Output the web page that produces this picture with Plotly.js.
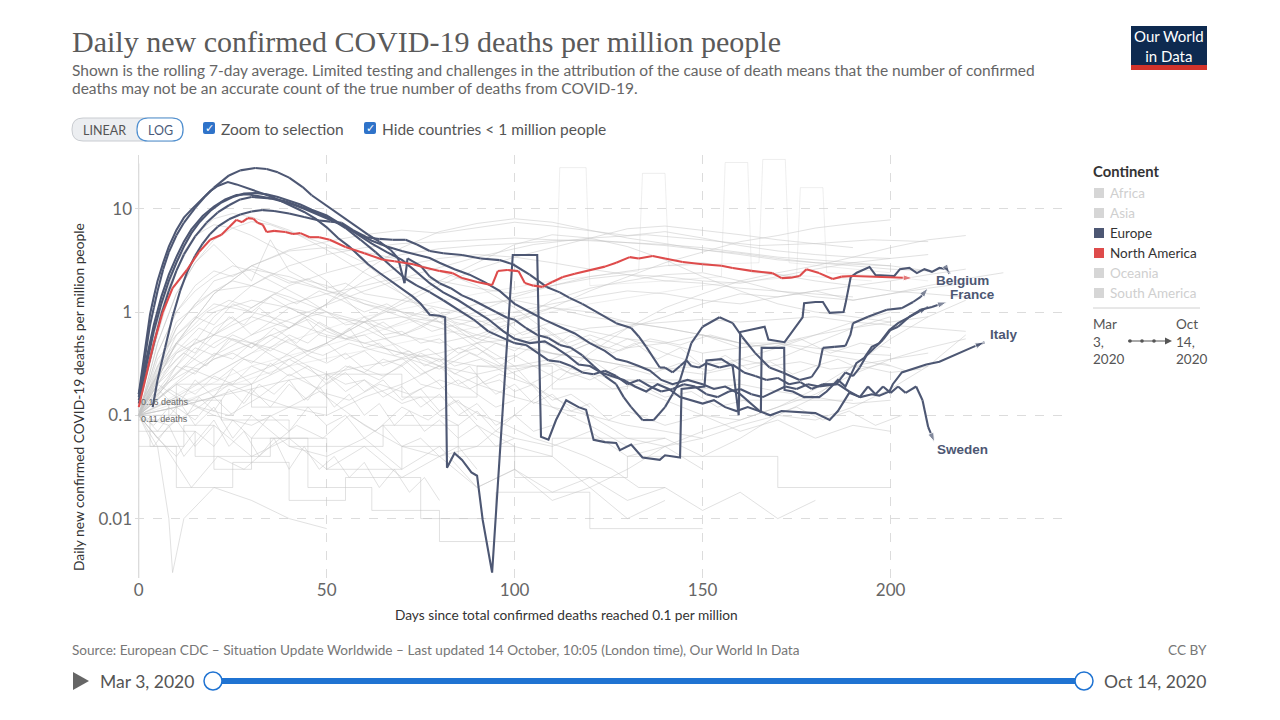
<!DOCTYPE html>
<html>
<head>
<meta charset="utf-8">
<script src="https://cdn.plot.ly/plotly-3.0.1.min.js"></script>
<style>html,body{margin:0;padding:0;background:#fff;}#chart{width:1280px;height:720px;}</style>
</head>
<body>
<div id="chart"></div>
<script>
// ---------------- DATA ----------------
const xTickVals = [0, 50, 100, 150, 200];
const yTickVals = [0.01, 0.1, 1, 10];
const yTickText = ['0.01', '0.1', '1', '10'];

const continents = ['Africa', 'Asia', 'Europe', 'North America', 'Oceania', 'South America'];

// United States (North America, red)
const usDays = [0,2,4,6.4,9,12.8,16,19,22,24,26,27.5,29,30.5,31.6,33,34,36,39,41,43,45.5,48,50.8,55,60,65,68,71,73,75.5,80,83.5,86,90,94,95.5,98,101,102.7,105,107.4,110,112.8,116,119,121.8,124,127,130.6,133,136.7,140,144.7,150,155,158,163,168.6,171,173.5,175.8,177.6,181,184.6,187,190,194,198,202,205.9];
const usVals = [0.12,0.25,0.5,1.0,1.7,2.55,3.8,5,5.6,6.6,7.8,7.4,8.1,8.0,7.3,7.0,5.95,6.1,5.95,5.7,5.8,5.3,5.3,5.0,4.26,3.7,3.2,3.1,2.98,2.9,2.73,2.5,2.38,2.13,1.95,1.82,2.49,2.55,2.49,1.91,1.8,1.75,1.95,2.18,2.35,2.5,2.67,2.75,3.0,3.4,3.3,3.48,3.3,3.05,2.9,2.8,2.67,2.5,2.38,2.13,2.15,2.23,2.6,2.38,2.09,2.2,2.23,2.2,2.18,2.15,2.13];

// European countries (dark)
const belgiumDays = [0,1,2,3,4,5,6.5,8,10,12,15,17.5,20,22,24,27,31,34,37,40,43.6,46,49,52,55,58,61,64,67,69,70.7,71.5,73,75,77.4,80,83,86,89,92,95,98,100,103,106,109,112,115,118,121,124,127,129,131,134,137,140,142,144,147,150,154.5,158,160.6,164,167.8,171.3,175.8,179,181,182,185,188,189.3,190,194,197,199,203,206,208,210];
const belgiumVals = [0.15,0.25,0.45,0.75,1.1,1.6,2.6,3.8,5.5,7.3,10.2,13,16,18.5,21,23.5,24.8,24.2,22.5,20,16.2,13.5,11.3,9.5,8.0,6.6,5.6,4.8,4.0,3.3,1.9,3.3,3.1,2.8,2.2,1.9,1.7,1.45,1.3,1.15,1.0,0.88,0.84,0.7,0.6,0.56,0.48,0.45,0.38,0.3,0.24,0.2,0.15,0.12,0.09,0.09,0.12,0.16,0.22,0.5,0.72,0.89,0.78,0.57,0.4,0.29,0.26,0.22,0.235,0.3,0.45,0.46,0.47,0.6,0.78,0.9,0.98,1.05,1.09,1.25,1.4,1.71];

const spainDays = [0,1,2,3,4,5,6.5,8,10,12,14,16.7,19,21,23.7,26,29,32,35,38,41,44,47,50,53,56,59,61,64,67,70,73,75,77.4,80,81.5,82,84,86,88.5,90,91.5,94,99.5,106,107,109,111,113.7,117,119,121,124,127,128,131,134,138.6,140,144,144.4,150.5,151,155,158,159.6,160,166.5,167.5,171.8,176.6,177,180,182,183.8,187.5,188,189.4,191,194.4,196,199,201,202.5,205,207,209,211,213,215,215.7];
const spainVals = [0.16,0.3,0.55,0.95,1.4,2.0,3.0,4.3,6.2,8.2,9.8,12.2,14.8,16.6,18.1,17.2,15.8,14.6,13.2,11.8,10.5,9.3,8.0,6.6,5.2,4.3,3.4,2.9,2.4,2.0,1.7,1.4,1.2,0.94,0.92,0.89,0.031,0.043,0.037,0.028,0.026,0.0097,0.003,3.56,3.56,0.062,0.058,0.09,0.14,0.12,0.113,0.058,0.055,0.054,0.046,0.052,0.039,0.037,0.041,0.039,0.18,0.19,0.34,0.35,0.3,0.1,0.64,0.72,0.54,0.51,0.89,1.22,1.25,1.25,0.98,1.0,1.2,2.18,2.4,2.73,2.28,2.23,2.23,2.6,2.67,2.38,2.6,2.45,2.67,2.6,2.35];

const italyDays = [0,2,4,6,8,10,12,14,17,20,23,26,29,32,35,38,41,44,47,50,54,58,62,66,70,73,77.4,81,85,89,93,97,100,104,108,111,114,117,120,123,126,129,132,135,138,141,144,147,150,153,156,159,162,165,168,171,175.8,180,183.8,186,189,192,195,197,199.7,200.6,203,206,209.5,213,216,218,222,225];
const italyVals = [0.16,0.35,0.75,1.4,2.3,3.4,4.8,6.3,8.5,10.5,12.3,13.6,13.8,13.2,12.6,11.8,11.0,10.0,9.0,8.2,7.0,5.7,4.6,3.8,3.2,2.6,1.9,1.55,1.3,1.05,0.85,0.65,0.55,0.5,0.52,0.45,0.38,0.31,0.3,0.26,0.24,0.22,0.19,0.17,0.2,0.18,0.15,0.14,0.13,0.14,0.12,0.11,0.12,0.11,0.1,0.11,0.108,0.105,0.09,0.11,0.165,0.15,0.16,0.155,0.17,0.2,0.26,0.28,0.31,0.33,0.37,0.4,0.46,0.51];

const franceDays = [0,2,4,6,8,10,12,15,18,21,24,27,30,33,36,39,42,45,48,51,55,59,63,67,71,74,77.4,81,85,89,93,97,100,103,106,109,112,115,118,121,124,127,130,133,136,139,142,145,148,151,154,157,160,163,166,169,172,175,178,181,185.6,188,190,191.8,193.6,196,198,200,202,205,208,211,215];
const franceVals = [0.13,0.25,0.5,0.95,1.6,2.5,3.6,5.4,7.3,9.2,10.8,12.3,13.0,12.8,12.5,11.8,10.8,9.8,9.0,8.0,6.5,5.0,3.8,2.8,2.1,1.8,1.56,1.3,1.05,0.85,0.65,0.56,0.5,0.48,0.4,0.34,0.33,0.3,0.26,0.25,0.27,0.24,0.2,0.22,0.19,0.17,0.18,0.2,0.19,0.16,0.15,0.17,0.18,0.16,0.15,0.17,0.19,0.18,0.2,0.19,0.2,0.26,0.24,0.29,0.38,0.46,0.54,0.67,0.72,0.9,1.05,1.12,1.25];

const ukDays = [0,2,4,6,8,10,12,14,16,19,22,25,28,31,34,37,40,43,46,50,54,58,62,66,70,74,77.4,80,84,88,92,96,100,104,108,112,116,120,124,127,130,133,136,139,142,146,150,153,156,160,163,165.5,165.7,171.7,171.8,174,177,181,183,186,188,190.9,193,195,197,199.7,202,205,207,210];
const ukVals = [0.14,0.3,0.65,1.2,2.0,3.0,4.3,5.8,7.3,9.5,11.5,13.0,14.0,14.2,13.8,13.0,12.0,11.0,9.8,8.6,7.0,5.8,4.9,4.3,3.9,3.6,3.33,3.0,2.6,2.3,1.95,1.6,1.2,1.0,0.84,0.72,0.62,0.5,0.42,0.35,0.33,0.3,0.27,0.22,0.2,0.22,0.2,0.18,0.19,0.16,0.13,0.107,0.45,0.45,0.176,0.17,0.15,0.15,0.17,0.22,0.19,0.32,0.36,0.46,0.5,0.67,0.78,0.9,0.98,1.12];

const swedenDays = [3.7,5,7,9,11,13,15,17,19,21,24,27,30,33,36,40,44,48,51,54,57,60.6,64,67.5,71,74,77.4,81,86,91,96,99.5,104,108.5,112,114.6,118,121.8,125,127,131,133,135,137,138.6,140,142,144,145.7,147,149,151,153,154.5,158,161,164,167,170,173,176,179,182,186,189,191.8,194,196,198,200,202,204,206.8,208.5,210,211.7];
const swedenVals = [0.12,0.22,0.45,0.9,1.6,2.5,3.5,4.6,5.7,6.7,7.9,8.8,9.4,9.7,9.5,9.0,8.3,7.7,7.5,7.3,6.2,5.3,5.1,5.0,5.0,4.5,3.9,3.7,3.56,3.3,3.18,2.9,2.3,1.75,1.55,1.37,1.2,1.0,0.85,0.78,0.7,0.58,0.46,0.35,0.29,0.29,0.26,0.3,0.34,0.3,0.29,0.32,0.3,0.29,0.31,0.26,0.24,0.22,0.23,0.2,0.21,0.18,0.2,0.2,0.17,0.15,0.19,0.16,0.19,0.165,0.19,0.165,0.19,0.14,0.077,0.055];

// Background countries (grey), hand-read approximations
const bgDays = [
 [0,10,20,30,40,50,60,70,80,90,100,110,120,130,140,150,160,170,180,190,200,210],
 [0,10,20,30,40,50,60,70,80,90,100,110,120,130,140,150,160,170,180,190,200],
 [0,10,20,30,40,50,60,70,80,90,100,110,120,130,140,150,160,170,180,190,200,210],
 [0,10,20,30,40,50,60,70,80,90,100,110,120,130,140,150,160,170,180,190,200,210,220],
 [0,5,10,15,20,25,30,40,50,60,70,80,90,100,110,120,130,140,150,160,170,180,190,200,210,220],
 [0,5,10,15,20,25,30,40,50,60,70,80,90,100,110,120,130,140,150,160,170,180,190,200,210,220],
 [0,5,10,15,20,25,30,35,40,50,60,70,80,90,100,110,120,130,140,150,160,170,180,190,200,210],
 [0,10,20,30,40,50,60,70,80,90,100,110,120,130,140,150,160,170,180,190,200,210,220,230],
 [0,10,20,30,40,50,60,70,80,90,100,110,120,130,140,150,160,170,180,190,200],
 [0,10,20,30,40,50,60,70,80,90,100,110,120,130,140,150,160,170,180,190],
 [0,10,20,30,40,50,60,70,80,90,100,110,120,130,140,150,160,170,180,190,200],
 [0,5,10,15,20,25,30,35,40,45,50,55,60,70,80,90,100,110,120,130,140,150,160],
 [0,30,60,90,111,112,119,120,140,155,156,162,163,180,195],
 [0,30,60,90,110,133,134,140,141,165,166,172,173,190,200],
 [0,40,80,120,150,175,176,182,183,200,210],
 [0,4,8,12,16,20,25,30,35,40,45,50,55,60,65,70,75,80,85,90,95,100,110,120,130,140,150],
 [0,5,10,15,20,25,30,35,40,45,50,55,60,65,70,80,90,100,110,120,130,140,150,160,170,180,190,200],
 [0,3,3,12,12,20,20,30,30,45,45,62,62,80,80,100],
 [0,5,10,15,20,30,40,50,60,70,80,90,100,110,120,130,140,150,160,170,180],
 [0,6,12,18,24,30,36,42,48,54,60,66,72,78,84,90,96,102,108,114,120,130,140,150,160,170,180,190,200,210],
 [0,5,10,15,20,25,30,35,40,45,50,60,70,80,90,100,110,120,130,140,150,160,170,180,190,200,210,220],
 [0,8,16,24,32,40,48,56,64,72,80,88,96,104,112,120,128,136,144,152,160,168,176,184,192,200],
 [0,5,10,15,20,25,30,40,50,60,70,80,90,100,110,120,130,140],
 [0,5,10,15,20,25,30,35,40,50,60,70,80,90,100,110,120,130,140,150,160,170,180,190,200],
 [0,10,20,30,40,50,60,70,80,90,100,110,120,130,140,150,160,170,180,190,200,210,220],
 [0,10,10,25,25,40,40,55,55,75,75,95,95,120,120,150],
 [0,4,8,12,16,20,24,28,32,36,40,44,48,52,56,60,64,68,72,76,80,85,90,95,100],
 [0,10,20,30,40,50,60,70,80,90,100,110,120,130,140,150,160,170,180,190,200],
 [0,7,14,21,28,35,42,49,56,63,70,77,84,91,98,105,112,119,126,133,140],
 [0,10,20,30,40,50,60,70,80,90,100,110,120,130,140,150,160,170,180,190,200],
 [0,5,10,15,20,25,30,35,40,45,50,55,60,65,70,75,80,85,90,95,100],
 [0,5,8,9,12,20,30,40,50],
 [0,10,10,30,30,50,50,70,70,90,90,110,110,130,130,160,160,190],
 [0,10,20,30,40,50,60,70,80,90,100,110,120,130,140,150,160,170,180,190,200,210,220],
 [0,10,20,30,40,50,60,70,80,90,100,110,120,130,140,150,160,170,180,190,200,210],
 [0,4,8,12,16,20,24,28,32,36,40,44,48,52,56,60,64,68,72,76,80,84,88,92,96,100,105,110,115,120],
 [0,5,10,15,20,25,30,35,40,45,50,55,60,65,70,75,80,85,90,95,100,110,120,130,140,150,160,170,180,190,200],
 [0,5,10,15,20,25,30,35,40,45,50,55,60,65,70,75,80,85,90,95,100,105,110],
 [0,6,12,18,24,30,36,42,48,54,60,66,72,78,84,90,96,102,108,114,120,126,132,138,144,150,156,162,168,174,180,186,192,198,204,210],
 [0,5,10,15,20,25,30,35,40,45,50,55,60,70,80,90,100,110,120,130,140,150,160,170,180,190,200,210,220],
 [0,5,10,15,20,25,30,35,40,45,50,55,60,65,70,75,80,85,90],
 [0,7,14,21,28,35,42,49,56,63,70,77,84,91,98,105,112,119,126,133,140,147,154,161,168,175,182,189,196,203],
 [0,5,10,15,20,25,30,35,40,45,50,55,60,65,70,75,80,85,90,95,100,105,110,115,120,125,130,135,140,145,150],
 [0,10,20,30,40,50,60,70,80,90,100,110,120,130,140,150,160,170,180,190,200],
 [0,4,8,12,16,20,24,28,32,36,40,44,48,52,56,60,64,68,72,76,80],
 [0,15,15,35,35,50,50,70,70,100,100,130,130,170,170,200],
 [0,8,8,22,22,40,40,65,65,85,85,110,110,140],
 [0,10,20,30,40,50,60,70,80,90,100,110,120,130,140,150,160,170,180,190,200,210,220],
 [0,5,10,15,20,25,30,35,40,45,50,60,70,80,90,100,110,120,130,140,150],
 [0,5,10,15,20,25,30,35,40,45,50,55,60,65,70,75,80,85,90,95,100,105,110,115,120,125,130,140,150,160,170,180,190,200],
 [0,10,20,30,40,50,60,70,80,90,100,110,120,130,140,150,160,170,180,190],
 [0,5,10,15,20,25,30,35,40,45,50,55,60,65,70,75,80,85,90],
 [0,15,30,45,60,75,90,105,120,135,150,165,180,195,210],
 [0,8,16,24,32,40,48,56,64,72,80,88,96,104,112,120,128,136,144,152,160,168,176,184,192,200,208],
 [0,5,10,15,20,25,30,35,40,45,50,55,60,65,70,75,80,85,90,95,100,105,110,115,120]
];
const bgVals = [
 [0.1,0.3,0.9,1.8,2.8,3.6,4.2,4.6,4.8,5.0,5.2,5.0,4.9,4.7,4.5,4.2,3.8,3.4,3.2,3.0,2.8,2.5],
 [0.12,0.5,1.5,2.8,4,4.8,5.6,6.2,5.8,6.6,7.4,6.8,6.1,5.5,6.0,5.2,4.4,3.9,3.6,3.4,3.3],
 [0.1,0.25,0.6,1.1,1.8,2.4,3.0,3.6,4.1,4.4,4.6,4.9,5.0,4.7,4.4,4.0,3.7,3.3,3.0,2.8,2.6,2.5],
 [0.1,0.5,1.5,2.8,3.9,4.2,3.8,3.2,2.5,1.8,1.1,0.6,0.35,0.2,0.14,0.1,0.09,0.12,0.16,0.25,0.35,0.45,0.55],
 [0.12,0.6,2.5,5.5,8,9,8.3,6.2,4,2.4,1.5,0.8,0.45,0.25,0.15,0.1,0.06,0.05,0.07,0.09,0.12,0.18,0.3,0.55,0.9,1.3],
 [0.14,0.8,3,5.5,7,6.5,5.5,3.5,2,0.9,0.4,0.2,0.08,0.05,0.04,0.02,0.03,0.05,0.06,0.08,0.1,0.09,0.12,0.18,0.3,0.6],
 [0.1,0.5,1.5,3,5,6.5,7.5,7,6,4.5,3,1.5,0.9,0.5,0.3,0.12,0.08,0.05,0.06,0.04,0.06,0.1,0.15,0.3,0.35,0.4],
 [0.1,0.8,1.6,1.8,1.4,1.0,0.8,0.6,0.5,0.6,0.8,1.3,1.7,2.0,2.3,2.4,2.0,1.6,1.4,1.3,1.5,1.8,2.1,2.4],
 [0.1,0.2,0.35,0.5,0.7,1.2,2.5,4.2,6,7.2,8,7.4,6.2,5.2,4.6,4.0,3.6,3.2,3.0,2.9,2.8],
 [0.1,0.12,0.18,0.25,0.35,0.5,0.8,1.2,1.8,2.6,3.4,4.2,5.2,6.4,6.8,6.2,5.6,5.0,4.6,4.2],
 [0.1,0.15,0.1,0.08,0.12,0.1,0.15,0.2,0.3,0.5,0.8,1.1,1.6,2.2,3.0,3.8,4.8,5.5,6.5,7.2,7.8],
 [0.1,0.5,1.5,3,4.5,3,2,5,2.5,2,1.8,1.5,1.2,1,0.9,0.8,0.9,1.1,1.0,0.8,0.7,0.6,0.5],
 [0.1,0.3,0.6,1.2,1.5,25,25,1.8,2,2.2,28,28,2.4,2.2,2],
 [0.1,0.4,0.9,1.5,2,2.5,22,22,2.8,3,30,30,3,2.6,2.4],
 [0.1,0.3,0.6,1.2,1.8,2.2,16,16,2.4,2.2,2.0],
 [0.1,0.15,0.22,0.3,0.28,0.35,0.4,0.32,0.45,0.38,0.3,0.25,0.2,0.22,0.17,0.13,0.15,0.1,0.08,0.11,0.07,0.06,0.05,0.07,0.04,0.05,0.03],
 [0.11,0.2,0.35,0.5,0.6,0.75,0.9,0.8,0.7,0.85,0.65,0.55,0.6,0.45,0.4,0.35,0.3,0.28,0.32,0.25,0.22,0.2,0.18,0.2,0.17,0.15,0.13,0.14],
 [0.1,0.1,0.05,0.05,0.08,0.08,0.03,0.03,0.06,0.06,0.02,0.02,0.012,0.012,0.006,0.006],
 [0.1,0.06,0.09,0.05,0.08,0.04,0.06,0.03,0.05,0.025,0.04,0.02,0.03,0.018,0.025,0.015,0.02,0.012,0.018,0.01,0.015],
 [0.1,0.3,0.6,1.0,1.3,1.1,1.5,1.2,1.6,1.3,1.0,1.2,0.9,1.1,0.8,0.7,0.9,0.6,0.7,0.5,0.6,0.45,0.5,0.4,0.45,0.5,0.6,0.7,0.8,0.9],
 [0.12,0.3,0.5,0.4,0.7,0.9,0.6,0.8,1.1,0.9,0.7,0.5,0.4,0.3,0.25,0.3,0.35,0.5,0.7,0.9,1.2,1.5,1.4,1.6,1.3,1.5,1.7,1.9],
 [0.1,0.18,0.12,0.2,0.15,0.25,0.18,0.3,0.22,0.35,0.28,0.4,0.3,0.45,0.38,0.5,0.42,0.55,0.48,0.6,0.5,0.45,0.55,0.4,0.5,0.45],
 [0.1,0.2,0.15,0.08,0.12,0.06,0.1,0.05,0.04,0.06,0.03,0.05,0.02,0.03,0.015,0.02,0.01,0.015],
 [0.1,0.4,1.0,1.8,2.5,2.2,2.8,2.4,2.0,1.6,1.3,1.0,0.8,0.6,0.5,0.4,0.35,0.3,0.28,0.25,0.3,0.35,0.5,0.7,0.9],
 [0.1,0.25,0.5,0.8,1.2,1.5,1.8,2.2,2.0,1.7,1.5,1.8,2.2,2.5,2.8,3.0,2.6,2.3,2.0,1.8,1.6,1.5,1.4],
 [0.05,0.05,0.02,0.02,0.035,0.035,0.015,0.015,0.025,0.025,0.01,0.01,0.018,0.018,0.008,0.008],
 [0.1,0.08,0.12,0.09,0.15,0.11,0.18,0.13,0.2,0.16,0.22,0.14,0.19,0.12,0.16,0.1,0.13,0.08,0.11,0.07,0.09,0.06,0.08,0.05,0.06],
 [0.1,0.12,0.15,0.2,0.3,0.5,0.8,1.3,2.0,3.0,4.5,5.6,5.2,4.3,3.2,2.2,1.6,1.2,1.0,0.9,0.8],
 [0.1,0.05,0.02,0.04,0.03,0.05,0.08,0.06,0.1,0.07,0.12,0.09,0.14,0.1,0.08,0.06,0.05,0.04,0.03,0.02,0.02],
 [0.1,0.6,1.2,1.0,0.8,0.6,0.5,0.6,0.9,1.2,1.3,1.1,0.9,0.8,0.7,0.6,0.5,0.5,0.45,0.4,0.38],
 [0.12,0.25,0.4,0.55,0.45,0.6,0.5,0.42,0.55,0.38,0.32,0.4,0.28,0.24,0.3,0.2,0.18,0.22,0.16,0.12,0.14],
 [0.1,0.05,0.01,0.003,0.01,0.02,0.015,0.01,0.008],
 [0.1,0.1,0.2,0.2,0.12,0.12,0.25,0.25,0.15,0.15,0.3,0.3,0.18,0.18,0.22,0.22,0.14,0.14],
 [0.1,0.4,0.6,0.5,0.3,0.15,0.08,0.05,0.04,0.05,0.1,0.2,0.4,0.7,1.1,1.5,2.0,2.4,2.8,3.4,4.2,5.0,5.5],
 [0.1,0.5,1.0,1.3,1.1,0.9,0.8,0.9,0.8,1.0,1.4,1.8,2.1,2.3,2.2,2.0,1.9,2.2,2.6,3.0,3.3,3.6],
 [0.1,0.2,0.35,0.5,0.7,0.6,0.9,0.75,1.1,0.85,0.7,0.9,0.6,0.55,0.7,0.45,0.5,0.38,0.42,0.3,0.35,0.25,0.3,0.2,0.22,0.17,0.2,0.14,0.16,0.12],
 [0.1,0.15,0.3,0.25,0.4,0.35,0.5,0.45,0.6,0.5,0.7,0.55,0.65,0.8,0.6,0.7,0.9,0.75,0.85,0.7,0.6,0.8,0.65,0.55,0.5,0.6,0.45,0.5,0.4,0.35,0.3],
 [0.11,0.07,0.12,0.09,0.15,0.1,0.18,0.12,0.2,0.14,0.25,0.17,0.22,0.15,0.19,0.12,0.16,0.1,0.13,0.08,0.1,0.07,0.08],
 [0.1,0.25,0.4,0.3,0.55,0.45,0.7,0.5,0.8,0.6,0.9,0.7,0.85,0.65,0.75,0.55,0.7,0.5,0.6,0.45,0.55,0.4,0.5,0.35,0.45,0.3,0.38,0.28,0.33,0.25,0.3,0.35,0.28,0.32,0.27,0.3],
 [0.1,0.3,0.7,1.2,1.6,2.0,1.8,2.3,1.9,2.1,1.7,1.9,1.5,1.3,1.1,0.9,1.0,1.2,1.4,1.6,1.5,1.3,1.2,1.4,1.6,1.8,2.0,2.3,2.6],
 [0.1,0.06,0.04,0.07,0.05,0.09,0.06,0.1,0.07,0.12,0.08,0.1,0.06,0.08,0.05,0.06,0.04,0.05,0.03],
 [0.12,0.2,0.28,0.22,0.35,0.3,0.45,0.38,0.5,0.42,0.36,0.44,0.3,0.35,0.25,0.3,0.22,0.26,0.18,0.2,0.15,0.17,0.12,0.14,0.1,0.12,0.09,0.11,0.08,0.1],
 [0.1,0.14,0.2,0.16,0.24,0.2,0.3,0.25,0.35,0.28,0.22,0.3,0.26,0.35,0.3,0.4,0.33,0.45,0.38,0.5,0.42,0.55,0.46,0.6,0.5,0.45,0.55,0.48,0.4,0.35,0.3],
 [0.1,0.7,2.0,2.6,2.2,1.6,1.2,0.9,0.7,0.55,0.45,0.4,0.35,0.3,0.28,0.3,0.35,0.45,0.6,0.8,1.0],
 [0.1,0.05,0.08,0.04,0.06,0.09,0.05,0.07,0.04,0.06,0.03,0.05,0.03,0.04,0.025,0.035,0.02,0.03,0.018,0.025,0.015],
 [0.07,0.07,0.04,0.04,0.06,0.06,0.03,0.03,0.05,0.05,0.025,0.025,0.04,0.04,0.02,0.02],
 [0.09,0.09,0.14,0.14,0.09,0.09,0.05,0.05,0.08,0.08,0.04,0.04,0.06,0.06],
 [0.1,0.12,0.15,0.18,0.22,0.25,0.3,0.35,0.4,0.5,0.55,0.6,0.7,0.75,0.8,0.85,0.8,0.85,0.9,0.8,0.75,0.7,0.65],
 [0.1,0.4,1.0,1.6,2.2,2.8,2.5,2.0,1.6,1.3,1.0,0.7,0.45,0.3,0.2,0.15,0.12,0.1,0.08,0.07,0.06],
 [0.1,0.2,0.3,0.45,0.38,0.55,0.45,0.6,0.5,0.42,0.5,0.35,0.42,0.3,0.36,0.25,0.3,0.2,0.24,0.16,0.2,0.13,0.16,0.11,0.13,0.09,0.11,0.08,0.1,0.07,0.09,0.06,0.08,0.07],
 [0.1,0.15,0.25,0.4,0.7,1.2,2.0,2.8,3.3,3.6,3.4,3.0,2.6,2.3,2.0,1.9,1.7,1.6,1.5,1.4],
 [0.1,0.18,0.12,0.22,0.15,0.28,0.2,0.32,0.24,0.3,0.2,0.26,0.17,0.22,0.14,0.18,0.11,0.14,0.09],
 [0.1,0.3,0.6,1.0,1.6,2.4,3.4,4.5,5.2,5.6,5.0,4.4,4.6,5.0,4.8],
 [0.1,0.08,0.12,0.1,0.15,0.12,0.17,0.14,0.2,0.16,0.22,0.18,0.25,0.2,0.28,0.22,0.3,0.25,0.32,0.27,0.35,0.3,0.33,0.28,0.3,0.26,0.28],
 [0.1,0.35,0.6,0.9,0.75,1.2,1.0,1.4,1.1,0.9,1.0,0.75,0.8,0.6,0.65,0.5,0.55,0.4,0.45,0.35,0.38,0.3,0.32,0.25,0.28]
];

// ---------------- STYLE / LAYOUT ----------------
const DARK = '#4d5773';
const RED = '#de4b4b';
const GREY = 'rgba(195,195,195,0.5)';
const GREY_FAINT = 'rgba(205,205,205,0.35)';
const SANS = 'Lato, "Open Sans", sans-serif';

const L = 135, R = 1071, T = 155, B = 578;
const px = x => (x - L) / (R - L);
const py = y => (B - y) / (B - T);

const traces = [];
bgDays.forEach((d, i) => {
  const faint = Math.max.apply(null, bgVals[i]) > 12; // reporting-glitch spikes drawn fainter
  traces.push({x: d, y: bgVals[i], type: 'scatter', mode: 'lines',
    line: {color: faint ? GREY_FAINT : GREY, width: 1}, hoverinfo: 'skip', showlegend: false});
});

function mainTrace(name, days, vals, color) {
  const n = days.length;
  return {x: days, y: vals, name, type: 'scatter', mode: 'lines+markers',
    line: {color: color, width: 2.1},
    marker: {color: color, angleref: 'previous',
      size: days.map((d, i) => i === n - 1 ? 10 : (i === 0 ? 5 : 0)),
      symbol: days.map((d, i) => i === n - 1 ? 'arrow' : 'circle')},
    showlegend: false};
}
traces.push(mainTrace('Sweden', swedenDays, swedenVals, DARK));
traces.push(mainTrace('United Kingdom', ukDays, ukVals, DARK));
traces.push(mainTrace('France', franceDays, franceVals, DARK));
traces.push(mainTrace('Italy', italyDays, italyVals, DARK));
traces.push(mainTrace('Spain', spainDays, spainVals, DARK));
traces.push(mainTrace('Belgium', belgiumDays, belgiumVals, DARK));
traces.push(mainTrace('United States', usDays, usVals, RED));

function txt(x, y, text, size, color, opts) {
  opts = opts || {};
  const xa = opts.xa || 'left';
  const xx = xa === 'left' ? x - 2 : (xa === 'right' ? x + 2 : x);
  return {xref: 'paper', yref: 'paper', x: px(xx), y: py(y), text: text, showarrow: false,
    xanchor: xa, yanchor: opts.ya || 'middle', align: opts.align || 'left',
    textangle: opts.angle || 0,
    font: {family: opts.family || SANS, size: size, color: color, weight: opts.weight || 'normal'}};
}
function rect(x0, y0, x1, y1, fill, lineColor, lw) {
  return {type: 'rect', xref: 'paper', yref: 'paper', x0: px(x0), x1: px(x1), y0: py(y1), y1: py(y0),
    fillcolor: fill, line: {color: lineColor || fill, width: lw === undefined ? 0 : lw}, layer: 'above'};
}
function rrPath(x0, y0, x1, y1, r, fill, lineColor, lw) {
  const P = (x, y) => px(x) + ',' + py(y);
  const path = `M ${P(x0 + r, y0)} L ${P(x1 - r, y0)} Q ${P(x1, y0)} ${P(x1, y0 + r)} L ${P(x1, y1 - r)} Q ${P(x1, y1)} ${P(x1 - r, y1)} L ${P(x0 + r, y1)} Q ${P(x0, y1)} ${P(x0, y1 - r)} L ${P(x0, y0 + r)} Q ${P(x0, y0)} ${P(x0 + r, y0)} Z`;
  return {type: 'path', xref: 'paper', yref: 'paper', path: path, fillcolor: fill,
    line: {color: lineColor || fill, width: lw || 0}, layer: 'above'};
}
function circ(cx, cy, r, fill, lineColor, lw) {
  return {type: 'circle', xref: 'paper', yref: 'paper', x0: px(cx - r), x1: px(cx + r), y0: py(cy + r), y1: py(cy - r),
    fillcolor: fill, line: {color: lineColor || fill, width: lw || 0}, layer: 'above'};
}
function hline(x0, x1, y, color, w) {
  return {type: 'line', xref: 'paper', yref: 'paper', x0: px(x0), x1: px(x1), y0: py(y), y1: py(y),
    line: {color: color, width: w}, layer: 'above'};
}
function tri(pts, fill) {
  const path = 'M ' + pts.map(p => px(p[0]) + ',' + py(p[1])).join(' L ') + ' Z';
  return {type: 'path', xref: 'paper', yref: 'paper', path: path, fillcolor: fill, line: {color: fill, width: 0}, layer: 'above'};
}

const shapes = [
  {type: 'line', xref: 'x', yref: 'paper', x0: 0, x1: 0, y0: 0, y1: 0.98, line: {color: '#cfcfcf', width: 1}, layer: 'below'},
  rrPath(72, 118, 183, 141, 11, '#eceef1', '#c9ccd1', 1),
  rrPath(137, 118, 183, 141, 11, '#ffffff', '#4f8fd0', 1.2),
  rrPath(203, 122, 215, 134, 2, '#2f73c9'),
  rrPath(364, 122, 376, 134, 2, '#2f73c9'),
  rect(1131, 26, 1207, 65, '#0e2a50'),
  rect(1131, 65, 1207, 70, '#d2332b'),
  rect(1094, 188, 1104, 198, '#d6d6d6'),
  rect(1094, 208, 1104, 218, '#d6d6d6'),
  rect(1094, 228, 1104, 238, DARK),
  rect(1094, 248, 1104, 258, RED),
  rect(1094, 268, 1104, 278, '#d6d6d6'),
  rect(1094, 288, 1104, 298, '#d6d6d6'),
  hline(1093, 1200, 308, '#d0d0d0', 1),
  hline(1128, 1168, 341, '#555', 1.2),
  circ(1130, 341, 1.8, '#555'), circ(1142, 341, 1.8, '#555'), circ(1154, 341, 1.8, '#555'),
  tri([[1165, 337.5], [1172, 341], [1165, 344.5]], '#555'),
  tri([[73, 672], [73, 690], [89, 681]], '#666'),
  hline(213, 1084, 681, '#1f73d2', 6),
  circ(213, 681, 9, '#ffffff', '#1f73d2', 1.5),
  circ(1084, 681, 9, '#ffffff', '#1f73d2', 1.5)
];

const LBL = '"Liberation Sans", Arial, sans-serif';
const annotations = [
  txt(72, 41, 'Daily new confirmed COVID-19 deaths per million people', 30, '#5a5a5a', {family: '"Liberation Serif", "DejaVu Serif", serif'}),
  txt(72, 70, 'Shown is the rolling 7-day average. Limited testing and challenges in the attribution of the cause of death means that the number of confirmed', 15.5, '#666'),
  txt(72, 88, 'deaths may not be an accurate count of the true number of deaths from COVID-19.', 15.5, '#666'),
  txt(104.5, 130, 'LINEAR', 12.5, '#555', {xa: 'center'}),
  txt(160, 130, 'LOG', 12.5, '#4a5a7a', {xa: 'center'}),
  txt(209, 128.5, '✓', 11, '#ffffff', {xa: 'center', family: '"DejaVu Sans", sans-serif', weight: 'bold'}),
  txt(370, 128.5, '✓', 11, '#ffffff', {xa: 'center', family: '"DejaVu Sans", sans-serif', weight: 'bold'}),
  txt(221, 129, 'Zoom to selection', 15.5, '#555'),
  txt(382, 129, 'Hide countries < 1 million people', 15.5, '#555'),
  txt(1169, 46, 'Our World<br>in Data', 15, '#ffffff', {xa: 'center', align: 'center'}),
  txt(1093, 171, 'Continent', 14.8, '#333', {weight: 'bold'}),
  txt(1110, 193, continents[0], 13.5, '#cfcfcf'),
  txt(1110, 213, continents[1], 13.5, '#cfcfcf'),
  txt(1110, 233, continents[2], 13.5, '#333'),
  txt(1110, 253, continents[3], 13.5, '#333'),
  txt(1110, 273, continents[4], 13.5, '#cfcfcf'),
  txt(1110, 293, continents[5], 13.5, '#cfcfcf'),
  txt(1093, 341, 'Mar<br>3,<br>2020', 13.5, '#555'),
  txt(1176, 341, 'Oct<br>14,<br>2020', 13.5, '#555'),
  txt(566, 614, 'Days since total confirmed deaths reached 0.1 per million', 13.7, '#333', {xa: 'center'}),
  txt(78, 397, 'Daily new confirmed COVID-19 deaths per million people', 13.8, '#333', {xa: 'center', angle: -90}),
  txt(936, 280, 'Belgium', 13.5, DARK, {family: LBL, weight: 'bold'}),
  txt(950, 294, 'France', 13.5, DARK, {family: LBL, weight: 'bold'}),
  txt(990, 334, 'Italy', 13.5, DARK, {family: LBL, weight: 'bold'}),
  txt(937, 449, 'Sweden', 13.5, DARK, {family: LBL, weight: 'bold'}),
  txt(141, 402, '0.16 deaths', 9, '#666', {family: LBL}),
  txt(141, 419, '0.11 deaths', 9, '#666', {family: LBL}),
  txt(72, 650, 'Source: European CDC – Situation Update Worldwide – Last updated 14 October, 10:05 (London time), Our World In Data', 13.6, '#777'),
  txt(1207, 650, 'CC BY', 13.6, '#777', {xa: 'right'}),
  txt(100, 681, 'Mar 3, 2020', 17.5, '#555'),
  txt(1104, 681, 'Oct 14, 2020', 17.5, '#555')
];

const layout = {
  width: 1280, height: 720,
  margin: {l: L, r: 1280 - R, t: T, b: 720 - B, pad: 0},
  paper_bgcolor: '#ffffff', plot_bgcolor: '#ffffff',
  showlegend: false,
  xaxis: {range: [-1, 248], tickvals: xTickVals, ticktext: xTickVals.map(String),
    showgrid: true, gridcolor: '#dcdcdc', griddash: 'dash', gridwidth: 1,
    zeroline: false, showline: false, ticks: '',
    tickfont: {family: SANS, size: 17, color: '#666'}},
  yaxis: {type: 'log', range: [-2.575, 1.52], tickvals: yTickVals, ticktext: yTickText,
    showgrid: true, gridcolor: '#dcdcdc', griddash: 'dash', gridwidth: 1,
    zeroline: false, showline: false, ticks: '', ticklabelstandoff: 2,
    tickfont: {family: SANS, size: 17, color: '#666'}},
  shapes: shapes,
  annotations: annotations
};

Plotly.newPlot('chart', traces, layout, {displayModeBar: false, staticPlot: true});
</script>
</body>
</html>
